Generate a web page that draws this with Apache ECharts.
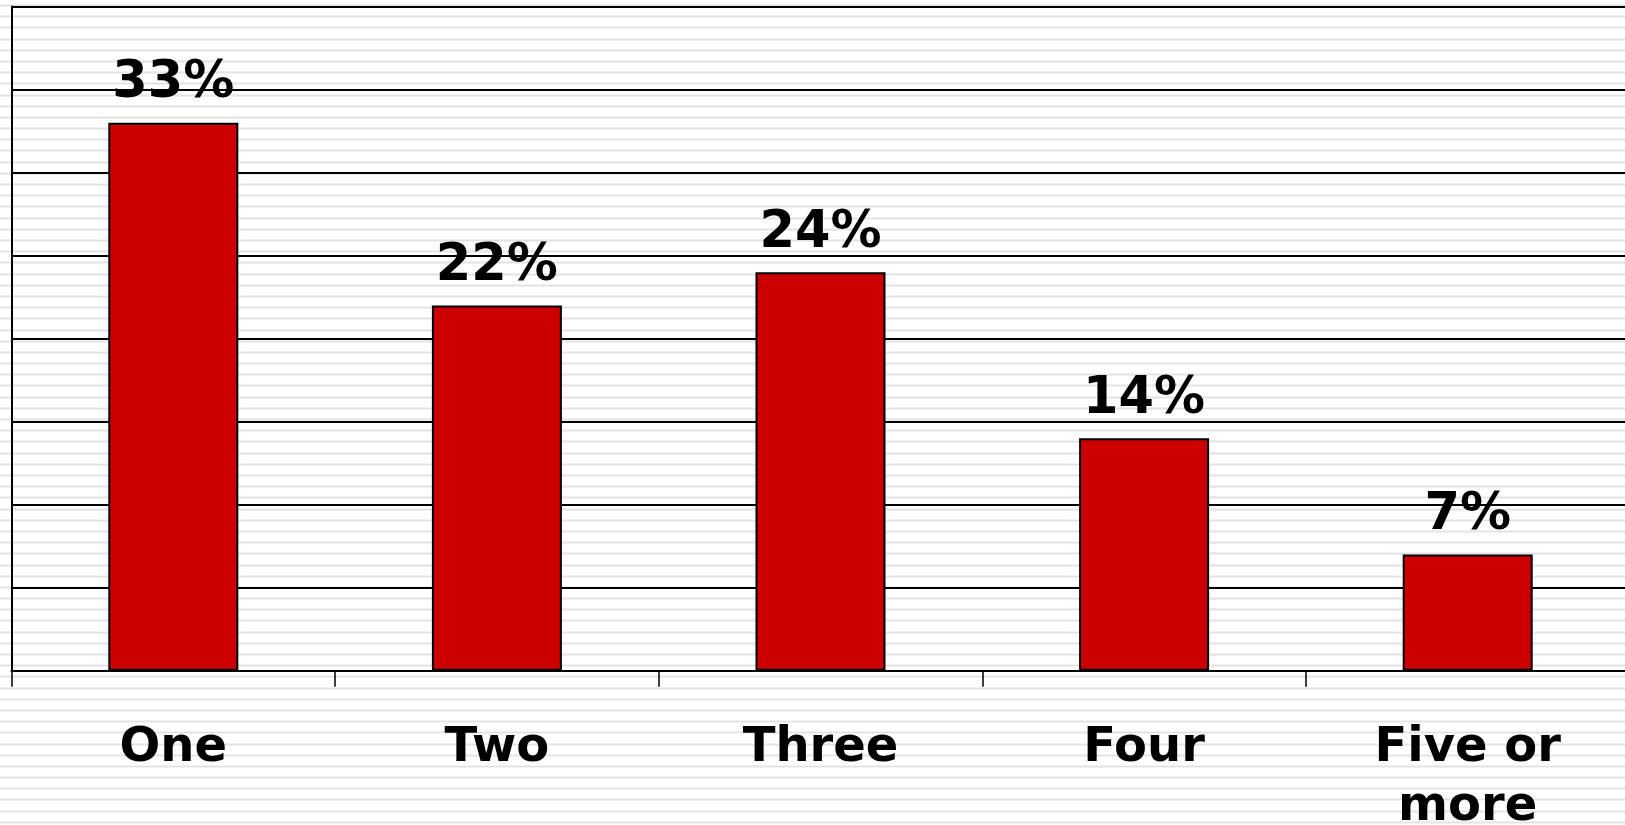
<!DOCTYPE html>
<html>
<head>
<meta charset="utf-8">
<script src="https://cdn.jsdelivr.net/npm/echarts@6/dist/echarts.min.js"></script>
<style>
  html, body { margin: 0; padding: 0; }
  /* lined-paper look behind the whole chart */
  #chart {
    width: 1625px; height: 825px;
    background-color: #fff;
    background-image: repeating-linear-gradient(to bottom, #e3e3e3 0px, #e3e3e3 2px, #ffffff 2px, #ffffff 11.19px);
    background-position: 0 4.5px;
  }
</style>
</head>
<body>
<div id="chart"></div>
<script>
const categories = ['One', 'Two', 'Three', 'Four', 'Five or\nmore'];
const shares = [33, 22, 24, 14, 7];
const yMin = 0, yMax = 40, yStep = 5;

const labelFont = {fontFamily: 'DejaVu Sans', fontWeight: 'bold', color: '#000'};

const chart = echarts.init(document.getElementById('chart'), null, {renderer: 'canvas'});
chart.setOption({
    backgroundColor: 'transparent',
    animation: false,
    grid: {left: 11.5, right: -4.5, top: 6.5, bottom: 154.3, outerBoundsMode: 'none', containLabel: false},
    xAxis: {
        type: 'category',
        data: categories,
        axisLine: {lineStyle: {color: '#000', width: 2}},
        axisTick: {show: true, length: 16, interval: 0, lineStyle: {color: '#000', width: 1.5}},
        axisLabel: {...labelFont, fontSize: 48, interval: 0, margin: 48, lineHeight: 59}
    },
    yAxis: {
        type: 'value',
        min: yMin, max: yMax, interval: yStep,
        axisLine: {show: true, lineStyle: {color: '#000', width: 2}},
        axisTick: {show: false},
        axisLabel: {show: false},
        splitLine: {lineStyle: {color: '#000', width: 2}}
    },
    series: [{
        type: 'bar',
        data: shares,
        barWidth: 130,
        itemStyle: {color: '#cc0000', borderColor: '#000', borderWidth: 2},
        label: {show: true, position: 'top', distance: 13, formatter: '{c}%', ...labelFont, fontSize: 51}
    }]
});
</script>
</body>
</html>
